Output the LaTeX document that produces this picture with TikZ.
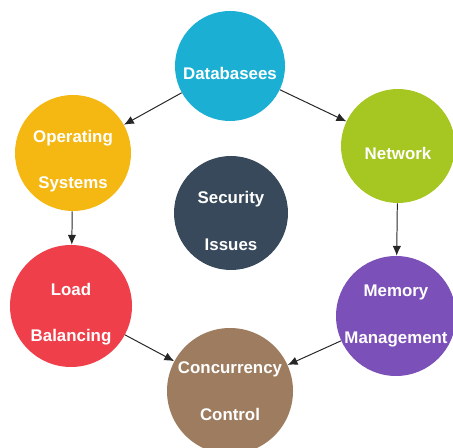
\documentclass[tikz,border=0pt]{standalone}
\usepackage{fontspec}
\setmainfont{Liberation Sans}
\usetikzlibrary{arrows.meta,positioning}
\definecolor{dbblue}{HTML}{1BAFD3}
\definecolor{osyellow}{HTML}{F5B812}
\definecolor{netgreen}{HTML}{A6C622}
\definecolor{secslate}{HTML}{37495A}
\definecolor{lbred}{HTML}{EE3F4B}
\definecolor{mempurple}{HTML}{7C50B9}
\definecolor{ccbrown}{HTML}{9D7C5F}
\newcommand{\issuestrut}{\rule{0pt}{20pt}}
\tikzset{issue/.style={circle,align=center,text=white,font=\fontsize{12}{33}\selectfont\bfseries,inner sep=0pt}}
\tikzset{flow/.style={-{Latex[length=7pt,width=6pt]},line width=0.7pt,draw=black!85}}

\begin{document}
\begin{tikzpicture}
\useasboundingbox (0,0) rectangle (11.325,11.175);

\node[issue,fill=dbblue,minimum size=2.75cm] (databases) at (5.75,9.525) {\issuestrut Databasees};
\node[issue,fill=osyellow,minimum size=2.9cm] (os) at (1.825,7.35) {\issuestrut Operating\\Systems};
\node[issue,fill=netgreen,minimum size=2.85cm] (network) at (9.95,7.525) {\issuestrut Network};
\node[issue,fill=secslate,minimum size=2.85cm] (security) at (5.775,5.85) {\issuestrut Security\\Issues};
\node[issue,fill=lbred,minimum size=3.05cm] (load) at (1.775,3.525) {\issuestrut Load\\Balancing};
\node[issue,fill=mempurple,minimum size=2.9cm] (memory) at (9.9,3.275) {Memory\\Management};
\node[issue,fill=ccbrown,minimum size=3.15cm] (concurrency) at (5.75,1.4) {Concurrency\\Control};

%links between the circles
\draw[flow] (databases) -- (os);
\draw[flow] (databases) -- (network);
\draw[flow] (os) -- (load);
\draw[flow] (network) -- (memory);
\draw[flow] (load) -- (concurrency);
\draw[flow] (memory) -- (concurrency);

\end{tikzpicture}
\end{document}
